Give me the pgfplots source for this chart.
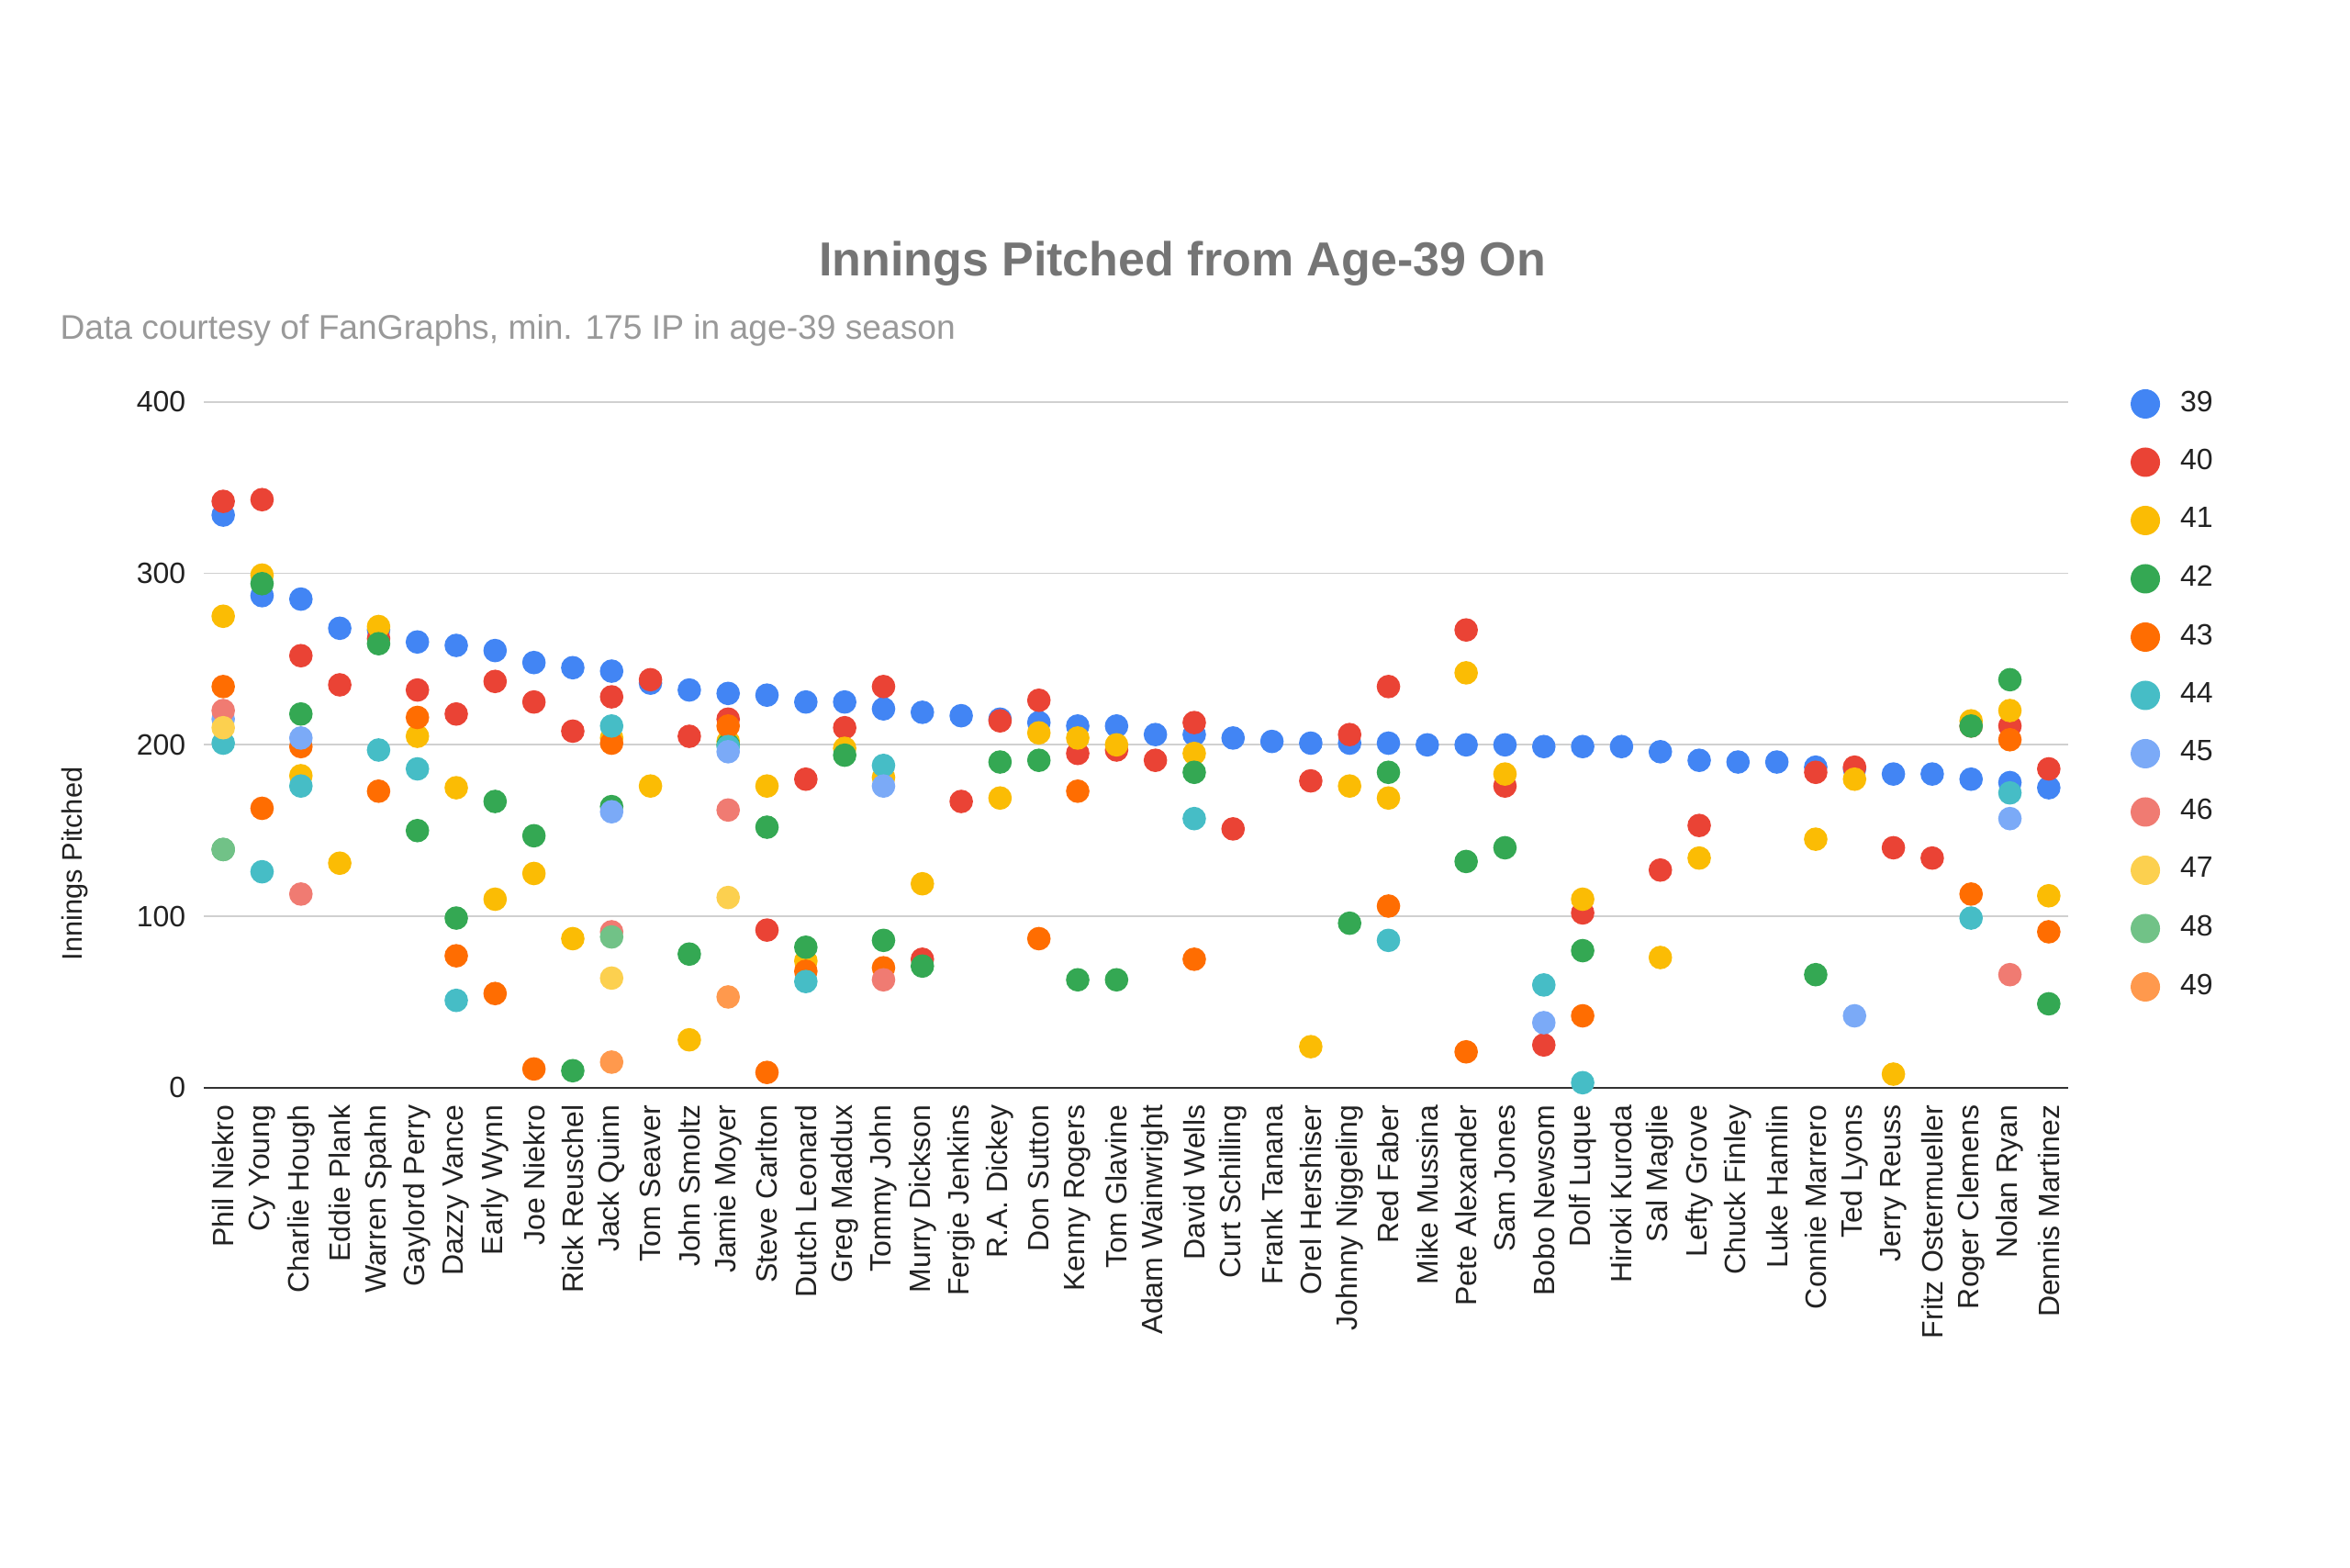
\documentclass[border=0pt]{standalone}
\usepackage{pgfplots}
\pgfplotsset{compat=1.18}
\usepackage{fontspec}
\setmainfont{Liberation Sans}
\definecolor{c39}{HTML}{4285F4}
\definecolor{c40}{HTML}{EA4335}
\definecolor{c41}{HTML}{FBBC04}
\definecolor{c42}{HTML}{34A853}
\definecolor{c43}{HTML}{FF6D01}
\definecolor{c44}{HTML}{46BDC6}
\definecolor{c45}{HTML}{7BAAF7}
\definecolor{c46}{HTML}{F07B72}
\definecolor{c47}{HTML}{FCD04F}
\definecolor{c48}{HTML}{71C287}
\definecolor{c49}{HTML}{FF994D}
\definecolor{gridgray}{HTML}{D0D0D0}
\definecolor{basegray}{HTML}{333333}
\definecolor{ticktext}{HTML}{222222}
\definecolor{titlegray}{HTML}{757575}
\definecolor{subgray}{HTML}{999999}
\pgfplotsset{dot/.style={only marks, mark=*, mark size=3pt, color=#1, fill=#1, mark options={draw=none, fill=#1}}}
\begin{document}
\begin{tikzpicture}
\path[use as bounding box] (0,0) rectangle (640pt,427pt);
\begin{axis}[
  at={(55.5pt,130.75pt)}, anchor=south west,
  scale only axis, width=507.75pt, height=186.8pt,
  xmin=-0.5, xmax=47.5, ymin=0, ymax=400,
  axis line style={draw=none},
  tick style={draw=none},
  ytick={0,100,200,300,400},
  ymajorgrids, grid style={draw=gridgray, line width=0.45pt},
  extra y ticks={0}, extra y tick labels={},
  extra y tick style={ymajorgrids=true, grid style={draw=basegray, line width=0.6pt}},
  /pgf/number format/assume math mode=true,
  yticklabel style={font=\fontsize{8}{9.6}\selectfont, text=ticktext, inner sep=0pt, anchor=east},
  yticklabel shift=4.75pt,
  xtick={0,...,47},
  xticklabels={Phil Niekro,Cy Young,Charlie Hough,Eddie Plank,Warren Spahn,Gaylord Perry,Dazzy Vance,Early Wynn,Joe Niekro,Rick Reuschel,Jack Quinn,Tom Seaver,John Smoltz,Jamie Moyer,Steve Carlton,Dutch Leonard,Greg Maddux,Tommy John,Murry Dickson,Fergie Jenkins,R.A. Dickey,Don Sutton,Kenny Rogers,Tom Glavine,Adam Wainwright,David Wells,Curt Schilling,Frank Tanana,Orel Hershiser,Johnny Niggeling,Red Faber,Mike Mussina,Pete Alexander,Sam Jones,Bobo Newsom,Dolf Luque,Hiroki Kuroda,Sal Maglie,Lefty Grove,Chuck Finley,Luke Hamlin,Connie Marrero,Ted Lyons,Jerry Reuss,Fritz Ostermueller,Roger Clemens,Nolan Ryan,Dennis Martinez},
  xticklabel style={font=\fontsize{8}{9.6}\selectfont, text=ticktext, inner sep=0pt, rotate=90, anchor=east},
  xticklabel shift=4.5pt,
  legend style={at={(1.0339,1.0174)}, anchor=north west, draw=none, fill=none,
    inner sep=0pt, outer sep=0pt, font=\fontsize{8}{9.6}\selectfont, text=ticktext,
    row sep=8.275pt, cells={anchor=west}, nodes={inner sep=0pt},
    /tikz/every odd column/.append style={column sep=5.7pt}},
  legend image code/.code={\draw[#1,mark size=3.8pt] plot coordinates {(0pt,0pt)};},
]
% age 39
\addplot[dot=c39] coordinates {(0,334) (1,287) (2,285) (3,268) (4,267) (5,260) (6,258) (7,255) (8,248) (9,245) (10,243) (11,236) (12,232) (13,230) (14,229) (15,225) (16,225) (17,221) (18,219) (19,217) (20,215) (21,213) (22,211) (23,211) (24,206) (25,206) (26,204) (27,202) (28,201) (29,201) (30,201) (31,200) (32,200) (33,200) (34,199) (35,199) (36,199) (37,196) (38,191) (39,190) (40,190) (41,187) (42,186) (43,183) (44,183) (45,180) (46,178) (47,175)};
\addlegendentry{39}
% age 40
\addplot[dot=c40] coordinates {(0,342) (1,343) (2,252) (3,235) (4,262) (5,232) (6,218) (7,237) (8,225) (9,208) (10,228) (11,238) (12,205) (13,215) (14,92) (15,180) (16,210) (17,234) (18,75) (19,167) (20,214) (21,226) (22,195) (23,197) (24,191) (25,213) (26,151) (28,179) (29,206) (30,234) (32,267) (33,176) (34,25) (35,102) (37,127) (38,153) (41,184) (42,187) (43,140) (44,134) (45,211) (46,211) (47,186)};
\addlegendentry{40}
% age 41
\addplot[dot=c41] coordinates {(0,275) (1,299) (2,182) (3,131) (4,269) (5,205) (6,175) (7,110) (8,125) (9,87) (10,204) (11,176) (12,28) (13,202) (14,176) (15,74) (16,198) (17,181) (18,119) (20,169) (21,207) (22,204) (23,200) (25,195) (28,24) (29,176) (30,169) (32,242) (33,183) (35,110) (37,76) (38,134) (41,145) (42,180) (43,8) (45,214) (46,220) (47,112)};
\addlegendentry{41}
% age 42
\addplot[dot=c42] coordinates {(0,139) (1,294) (2,218) (4,259) (5,150) (6,99) (7,167) (8,147) (9,10) (10,164) (12,78) (13,200) (14,152) (15,82) (16,194) (17,86) (18,71) (20,190) (21,191) (22,63) (23,63) (25,184) (29,96) (30,184) (32,132) (33,140) (35,80) (41,66) (45,211) (46,238) (47,49)};
\addlegendentry{42}
% age 43
\addplot[dot=c43] coordinates {(0,234) (1,163) (2,199) (4,173) (5,216) (6,77) (7,55) (8,11) (10,201) (13,211) (14,9) (15,68) (17,70) (21,87) (22,173) (25,75) (30,106) (32,21) (35,42) (45,113) (46,203) (47,91)};
\addlegendentry{43}
% age 44
\addplot[dot=c44] coordinates {(0,201) (1,126) (2,176) (4,197) (5,186) (6,51) (10,211) (13,199) (15,62) (17,188) (25,157) (30,86) (34,60) (35,3) (45,99) (46,172)};
\addlegendentry{44}
% age 45
\addplot[dot=c45] coordinates {(0,215) (2,204) (10,161) (13,196) (17,176) (34,38) (42,42) (46,157)};
\addlegendentry{45}
% age 46
\addplot[dot=c46] coordinates {(0,220) (2,113) (10,91) (13,162) (17,63) (46,66)};
\addlegendentry{46}
% age 47
\addplot[dot=c47] coordinates {(0,210) (10,64) (13,111)};
\addlegendentry{47}
% age 48
\addplot[dot=c48] coordinates {(0,139) (10,88)};
\addlegendentry{48}
% age 49
\addplot[dot=c49] coordinates {(10,15) (13,53)};
\addlegendentry{49}
\end{axis}
\node[anchor=base, font=\fontsize{13}{15}\selectfont\bfseries, text=titlegray] at (322pt,351.75pt) {Innings Pitched from Age-39 On};
\node[anchor=base west, inner sep=0pt, font=\fontsize{9.3}{11}\selectfont, text=subgray] at (16.2pt,334.5pt) {Data courtesy of FanGraphs, min. 175 IP in age-39 season};
\node[rotate=90, inner sep=0pt, font=\fontsize{7.7}{9}\selectfont, text=ticktext] at (20.5pt,191.75pt) {Innings Pitched};
\end{tikzpicture}
\end{document}
